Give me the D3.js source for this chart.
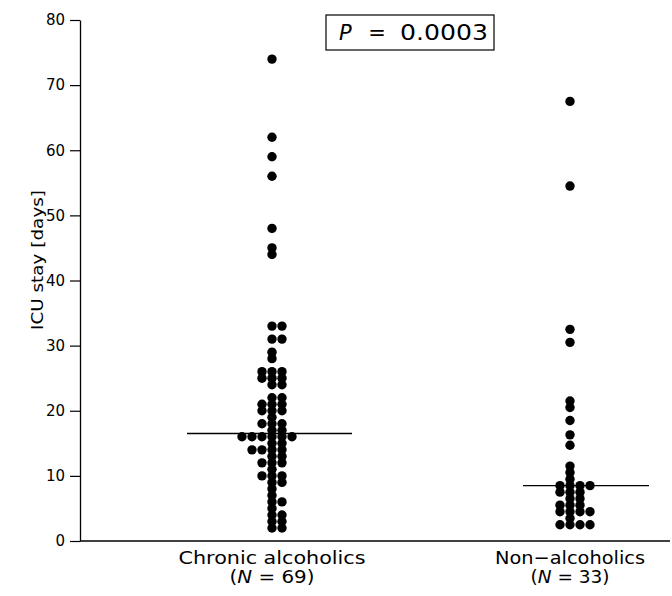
<!DOCTYPE html>
<html><head><meta charset="utf-8">
<script src="https://cdn.jsdelivr.net/npm/d3@7"></script>
<style>
body{margin:0;background:#fff}
svg text{font-family:"DejaVu Sans",sans-serif;fill:#000}
</style>
</head><body>
<svg id="chart" width="672" height="596"></svg>
<script>
// ---- data ----
const groups = ["Chronic alcoholics", "Non\u2212alcoholics"];
const groupN = [69, 33];
const chronicValues = [
  74, 62, 59, 56, 48, 45, 44,
  33, 33, 31, 31, 29, 28,
  26, 26, 26, 25, 25, 25, 24, 24,
  22, 22, 21, 21, 21, 20, 20, 20, 19, 18, 18, 18, 17, 17,
  16, 16, 16, 16, 16, 16, 15, 15, 14, 14, 14, 14, 13, 13, 12, 12, 12, 11,
  10, 10, 10, 9, 9, 8, 7, 6, 6, 5, 4, 4, 3, 3, 2, 2
];
const nonAlcoholicValues = [
  67.5, 54.5, 32.5, 30.5,
  21.5, 20.5, 18.5, 16.3, 14.7,
  11.5, 10.5, 9.5,
  8.5, 8.5, 8.5, 8.5,
  7.5, 7.5, 7.5,
  6.5, 6.5,
  5.5, 5.5, 5.5,
  4.5, 4.5, 4.5, 4.5,
  3.5,
  2.5, 2.5, 2.5, 2.5
];
const medians = [16.5, 8.5];
const yTicks = [0, 10, 20, 30, 40, 50, 60, 70, 80];
const pValueLabel = "0.0003";

// ---- layout ----
const svg = d3.select("#chart");
const y = d3.scaleLinear().domain([0, 80]).range([541, 20]);
const x = d3.scalePoint().domain(groups).range([272, 570]);
const colStep = 10, dotR = 4.7;
const colOrders = [[0, 1, -1, -2, 2, -3, 3, -4, 4], [0, 1, -1, 2, -2, 3, -3, 4, -4]];
const medianSpan = [[-85, 80], [-47, 79]];
const labelWidths = [[187, 85], [150, 79]];

function layout(vals, gi) {
  const count = new Map();
  return vals.map(v => {
    const k = count.get(v) || 0;
    count.set(v, k + 1);
    return { g: groups[gi], v, col: colOrders[gi][k] };
  });
}
const points = [...layout(chronicValues, 0), ...layout(nonAlcoholicValues, 1)];

// y axis
const yAxis = d3.axisLeft(y).tickValues(yTicks).tickSize(10).tickSizeOuter(0).tickPadding(5);
const gy = svg.append("g").attr("transform", "translate(80,0)").call(yAxis);
gy.select(".domain").attr("stroke", "#000").attr("stroke-width", 1.3);
gy.selectAll(".tick line").attr("stroke", "#000").attr("stroke-width", 1.2);
gy.selectAll(".tick text").attr("font-size", 15).attr("font-family", "DejaVu Sans").attr("fill", "#000");

// x axis line
svg.append("line").attr("x1", 80).attr("x2", 670).attr("y1", y(0)).attr("y2", y(0))
  .attr("stroke", "#000").attr("stroke-width", 1.3);

// y title
svg.append("text").attr("transform", `translate(43,${(189 + 331) / 2}) rotate(-90)`)
  .attr("text-anchor", "middle").attr("font-size", 16)
  .attr("textLength", 140).attr("lengthAdjust", "spacingAndGlyphs").text("ICU stay [days]");

// median lines
svg.append("g").selectAll("line").data(groups).join("line")
  .attr("x1", (d, i) => x(d) + medianSpan[i][0])
  .attr("x2", (d, i) => x(d) + medianSpan[i][1])
  .attr("y1", (d, i) => y(medians[i])).attr("y2", (d, i) => y(medians[i]))
  .attr("stroke", "#000").attr("stroke-width", 1.4);

// dots
svg.append("g").selectAll("circle").data(points).join("circle")
  .attr("cx", d => x(d.g) + d.col * colStep)
  .attr("cy", d => y(d.v))
  .attr("r", dotR).attr("fill", "#000");

// group labels
const lab = svg.append("g").selectAll("g").data(groups).join("g")
  .attr("transform", d => `translate(${x(d)},0)`);
lab.append("text").attr("y", 564).attr("text-anchor", "middle").attr("font-size", 18)
  .attr("textLength", (d, i) => labelWidths[i][0]).attr("lengthAdjust", "spacingAndGlyphs").text(d => d);
const l2 = lab.append("text").attr("y", 583).attr("text-anchor", "middle").attr("font-size", 18)
  .attr("textLength", (d, i) => labelWidths[i][1]).attr("lengthAdjust", "spacingAndGlyphs");
l2.append("tspan").text("(");
l2.append("tspan").attr("font-style", "italic").text("N");
l2.append("tspan").text((d, i) => " = " + groupN[i] + ")");

// P box
svg.append("rect").attr("x", 326).attr("y", 15).attr("width", 168).attr("height", 35)
  .attr("fill", "none").attr("stroke", "#000").attr("stroke-width", 1.2);
svg.append("text").attr("x", 339).attr("y", 40).attr("font-size", 21).attr("font-style", "italic").text("P");
svg.append("text").attr("x", 377).attr("y", 40).attr("font-size", 21).attr("text-anchor", "middle").text("=");
svg.append("text").attr("x", 400).attr("y", 40).attr("font-size", 21)
  .attr("textLength", 88).attr("lengthAdjust", "spacingAndGlyphs").text(pValueLabel);
</script>
</body></html>
